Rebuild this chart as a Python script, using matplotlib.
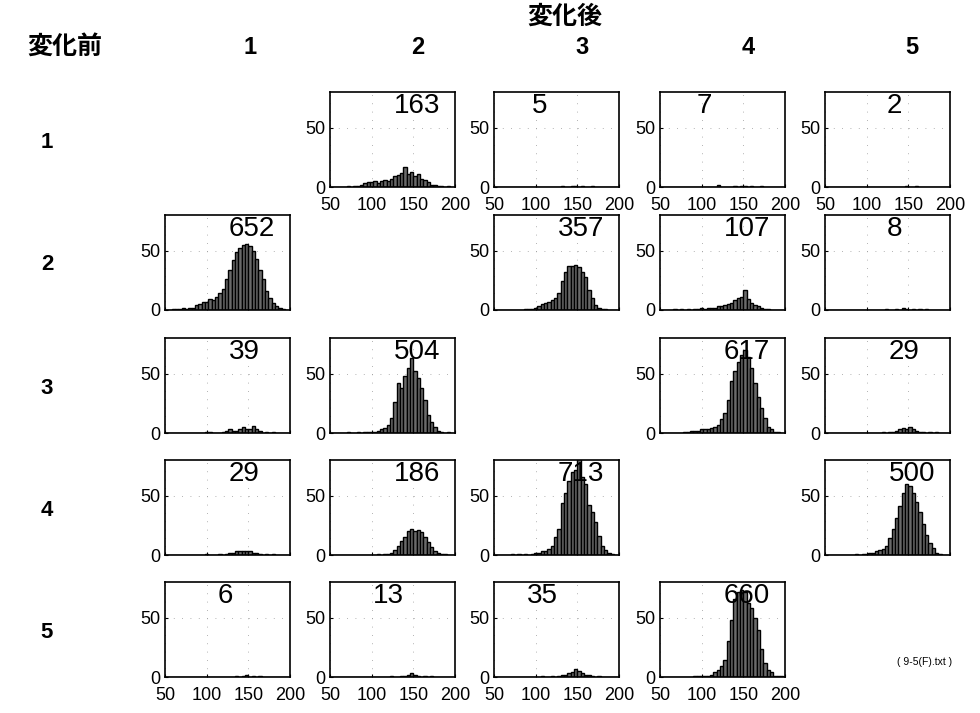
import matplotlib
matplotlib.use('Agg')

import numpy as np
import matplotlib.pyplot as plt

plt.rcParams['font.family'] = ['Liberation Sans', 'Noto Sans CJK JP', 'DejaVu Sans']

# histogram bins: 4-wide from 50 to 198
edges = np.arange(50, 202, 4)
centers = edges[:-1] + 2

# counts per bin, one list per (before -> after) pair
b1_a2 = [0, 0, 0, 0, 0, 1, 0, 1, 1, 2, 3, 4, 4, 5, 3, 5, 6, 5, 7, 9,
         10, 12, 17, 11, 13, 9, 11, 7, 6, 4, 2, 2, 1, 1, 0, 1, 0]
b1_a3 = [0, 0, 0, 0, 0, 0, 0, 0, 0, 0, 0, 0, 0, 0, 0, 0, 0, 0, 0, 0,
         1, 0, 0, 1, 1, 0, 1, 0, 0, 1, 0, 0, 0, 0, 0, 0, 0]
b1_a4 = [0, 0, 0, 0, 0, 0, 0, 0, 0, 0, 0, 0, 0, 0, 0, 0, 0, 2, 0, 0,
         0, 0, 1, 0, 1, 1, 0, 1, 0, 0, 1, 0, 0, 0, 0, 0, 0]
b1_a5 = [0, 0, 0, 0, 0, 0, 0, 0, 0, 0, 0, 0, 0, 0, 0, 0, 0, 0, 0, 0,
         0, 0, 0, 0, 1, 0, 0, 1, 0, 0, 0, 0, 0, 0, 0, 0, 0]
b2_a1 = [0, 0, 1, 1, 1, 2, 1, 2, 2, 4, 5, 7, 7, 9, 8, 11, 14, 18, 26, 34,
         42, 49, 52, 55, 56, 54, 50, 43, 34, 26, 16, 10, 6, 3, 2, 1, 0]
b2_a3 = [0, 0, 0, 0, 0, 0, 0, 0, 0, 1, 1, 1, 2, 3, 5, 6, 7, 8, 10, 14,
         24, 32, 37, 37, 38, 36, 32, 28, 17, 10, 4, 2, 1, 1, 0, 0, 0]
b2_a4 = [0, 0, 0, 0, 1, 0, 1, 0, 1, 0, 1, 1, 2, 1, 2, 2, 2, 3, 3, 4,
         5, 6, 8, 10, 11, 17, 9, 6, 4, 3, 2, 1, 1, 0, 0, 0, 0]
b2_a5 = [0, 0, 0, 0, 0, 0, 0, 0, 0, 0, 0, 0, 0, 0, 0, 0, 0, 0, 1, 0,
         0, 1, 0, 2, 1, 0, 1, 0, 1, 0, 1, 0, 0, 0, 0, 0, 0]
b3_a1 = [0, 0, 0, 0, 0, 0, 0, 0, 0, 0, 0, 0, 1, 1, 0, 0, 0, 1, 2, 3,
         2, 2, 3, 5, 3, 3, 6, 3, 2, 0, 1, 0, 1, 0, 0, 0, 0]
b3_a2 = [0, 0, 0, 0, 0, 1, 0, 0, 1, 0, 1, 1, 1, 1, 2, 3, 4, 7, 13, 26,
         42, 38, 48, 55, 63, 52, 46, 38, 28, 15, 9, 5, 2, 1, 0, 1, 0]
b3_a4 = [0, 0, 0, 0, 0, 0, 0, 1, 1, 2, 2, 2, 3, 3, 3, 4, 5, 7, 12, 17,
         28, 44, 52, 60, 66, 70, 64, 55, 42, 30, 21, 13, 5, 3, 1, 1, 0]
b3_a5 = [0, 0, 0, 0, 0, 0, 0, 0, 0, 0, 0, 0, 0, 0, 0, 0, 0, 1, 0, 1,
         1, 2, 3, 4, 3, 5, 3, 2, 1, 1, 0, 1, 0, 1, 0, 0, 0]
b4_a1 = [0, 0, 0, 0, 0, 0, 0, 0, 0, 0, 0, 0, 1, 0, 0, 0, 1, 0, 1, 2,
         2, 3, 3, 3, 3, 3, 2, 2, 1, 0, 1, 0, 1, 0, 0, 0, 0]
b4_a2 = [0, 0, 0, 0, 0, 0, 0, 0, 0, 0, 0, 0, 0, 0, 1, 0, 1, 1, 2, 4,
         8, 12, 15, 20, 22, 20, 21, 19, 15, 11, 7, 3, 2, 1, 1, 0, 0]
b4_a3 = [0, 0, 0, 0, 0, 1, 0, 1, 0, 1, 0, 1, 2, 2, 3, 3, 5, 8, 15, 22,
         44, 52, 62, 70, 72, 86, 66, 60, 42, 36, 28, 16, 8, 4, 2, 1, 0]
b4_a5 = [0, 0, 0, 0, 0, 0, 0, 0, 0, 1, 0, 1, 1, 2, 2, 3, 4, 5, 8, 14,
         22, 31, 41, 52, 60, 58, 52, 45, 36, 26, 17, 10, 6, 2, 1, 0, 0]
b5_a1 = [0, 0, 0, 0, 0, 0, 0, 0, 0, 0, 0, 0, 0, 0, 0, 0, 0, 0, 0, 0,
         0, 1, 0, 1, 2, 0, 1, 0, 1, 0, 0, 0, 0, 0, 0, 0, 0]
b5_a2 = [0, 0, 0, 0, 0, 0, 0, 0, 0, 0, 0, 0, 0, 0, 0, 0, 0, 0, 1, 0,
         0, 1, 1, 2, 3, 2, 1, 0, 1, 0, 1, 0, 0, 0, 0, 0, 0]
b5_a3 = [0, 0, 0, 0, 0, 0, 0, 0, 0, 0, 0, 0, 0, 0, 1, 0, 0, 1, 0, 1,
         2, 2, 3, 4, 7, 5, 3, 2, 2, 1, 0, 1, 0, 0, 0, 0, 0]
b5_a4 = [0, 0, 0, 0, 0, 0, 0, 0, 0, 0, 1, 1, 1, 1, 1, 2, 4, 6, 9, 14,
         30, 48, 66, 72, 73, 72, 62, 58, 50, 40, 24, 12, 6, 4, 1, 1, 1]

hists = {
    (1, 2): b1_a2, (1, 3): b1_a3, (1, 4): b1_a4, (1, 5): b1_a5,
    (2, 1): b2_a1, (2, 3): b2_a3, (2, 4): b2_a4, (2, 5): b2_a5,
    (3, 1): b3_a1, (3, 2): b3_a2, (3, 4): b3_a4, (3, 5): b3_a5,
    (4, 1): b4_a1, (4, 2): b4_a2, (4, 3): b4_a3, (4, 5): b4_a5,
    (5, 1): b5_a1, (5, 2): b5_a2, (5, 3): b5_a3, (5, 4): b5_a4,
}
groups = [1, 2, 3, 4, 5]

# left edge of the count label, axes fraction
label_x = {(1, 3): 0.30, (1, 4): 0.29, (1, 5): 0.49, (2, 5): 0.49,
           (5, 1): 0.42, (5, 2): 0.34, (5, 3): 0.26}

W, H = 980, 713
fig = plt.figure(figsize=(W / 100, H / 100), dpi=100)

col_left = [165, 330, 494, 660, 825]
row_top = [92, 215, 338, 460, 582]
pw, ph = 125, 95

for (b, a), counts in hists.items():
    x0 = col_left[a - 1] / W
    y0 = 1 - (row_top[b - 1] + ph) / H
    ax = fig.add_axes([x0, y0, pw / W, ph / H])
    ax.hist(centers, bins=edges, weights=counts, color='#6a6a6a',
            edgecolor='black', linewidth=1.0)
    ax.set_xlim(50, 200)
    ax.set_ylim(0, 80)
    ax.set_yticks([0, 50])
    ax.set_xticks([50, 100, 150, 200])
    ax.grid(True, color='#999999', linestyle=(0, (1, 9)), linewidth=0.6)
    ax.set_axisbelow(True)
    ax.tick_params(direction='in', length=2, labelsize=13, pad=3)
    if b == 1 or b == 5:
        ax.tick_params(axis='x', labelsize=13, pad=7)
    else:
        ax.tick_params(axis='x', labelbottom=False)
    for s in ax.spines.values():
        s.set_linewidth(1.2)
    ax.text(label_x.get((b, a), 0.51), 0.99, str(sum(counts)),
            transform=ax.transAxes, ha='left', va='top', fontsize=20)

# group headers
fig.text(565 / W, 1 - 17 / H, '変化後', ha='center', va='center',
         fontsize=18, fontweight='bold', family=['Noto Sans CJK JP', 'DejaVu Sans'])
fig.text(65 / W, 1 - 47 / H, '変化前', ha='center', va='center',
         fontsize=18, fontweight='bold', family=['Noto Sans CJK JP', 'DejaVu Sans'])

col_label_x = [250, 418, 582, 748, 912]
for g, cx in zip(groups, col_label_x):
    fig.text(cx / W, 1 - 47 / H, str(g), ha='center', va='center',
             fontsize=17, fontweight='bold',
             family=['Liberation Sans Narrow', 'Liberation Sans', 'DejaVu Sans'])
for g, top in zip(groups, row_top):
    fig.text(47 / W, 1 - (top + 50) / H, str(g), ha='center', va='center',
             fontsize=16, fontweight='bold',
             family=['Liberation Sans Narrow', 'Liberation Sans', 'DejaVu Sans'])

fig.text(925 / W, 1 - 662 / H, '( 9-5(F).txt )', ha='center', va='center', fontsize=7.5)

plt.savefig('out.png', dpi=100)
